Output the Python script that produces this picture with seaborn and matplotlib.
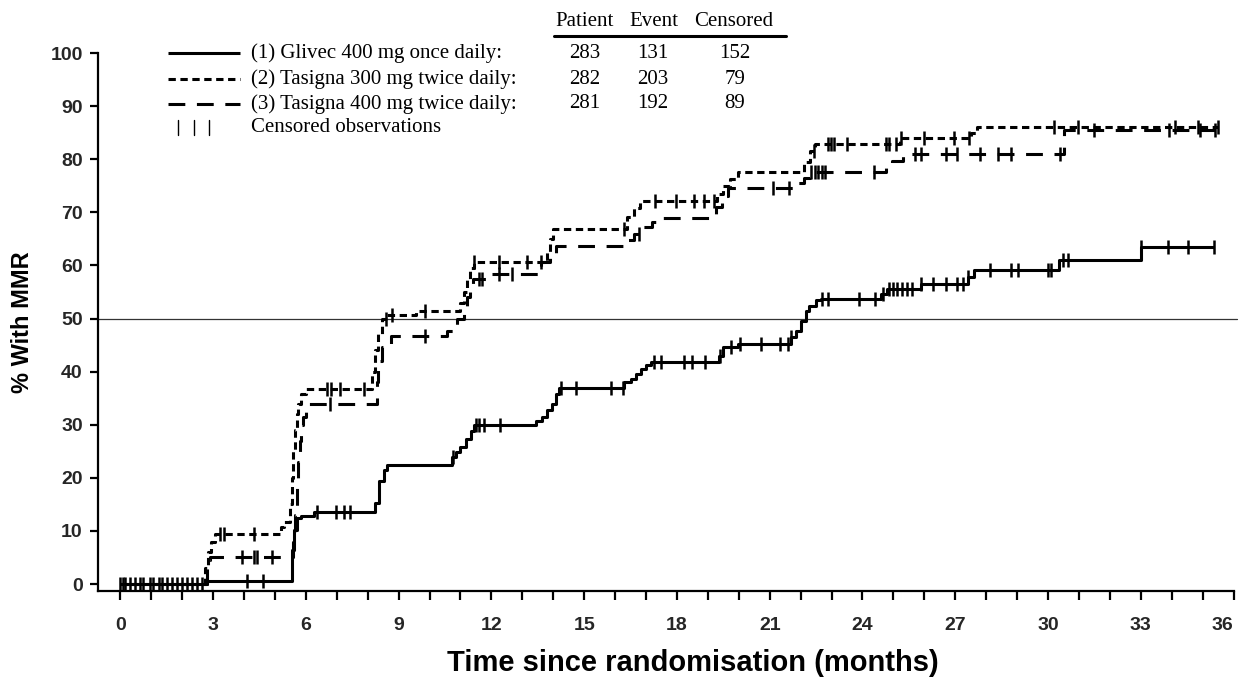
import numpy as np
import pandas as pd
import matplotlib
matplotlib.use("Agg")
import matplotlib.pyplot as plt
from matplotlib.lines import Line2D
import seaborn as sns

# ---------------- data ----------------
# Glivec 400 mg once daily
glivec_t = [0, 2.8, 5.56, 5.61, 5.72, 5.83, 6.26, 8.25, 8.36, 8.52, 8.63, 10.73, 10.84,
            11.0, 11.17, 11.33, 11.43, 13.43, 13.65, 13.81, 13.97, 14.08, 14.19, 16.29,
            16.5, 16.67, 16.83, 16.99, 17.15, 19.37, 19.5, 19.96, 21.68, 21.84, 22.0,
            22.17, 22.28, 22.49, 22.65, 24.6, 24.8, 25.9, 27.4, 27.6, 30.37, 33.0]
glivec_v = [0, 0.6, 6.4, 10.2, 12.4, 12.8, 13.5, 15.2, 19.5, 21.4, 22.4, 23.9, 24.9,
            25.8, 27.4, 28.9, 29.9, 30.8, 31.4, 32.7, 34.0, 35.8, 37.0, 38.0,
            38.7, 39.6, 40.5, 41.2, 41.9, 43.0, 44.6, 45.2, 46.5, 47.7, 49.6,
            51.5, 52.4, 53.4, 53.7, 54.6, 55.6, 56.5, 57.8, 59.2, 61.1, 63.5]
glivec_cens = [0.16, 0.49, 0.97, 1.35, 1.83, 2.32, 4.1, 4.63, 6.37, 6.96, 7.23, 7.42,
               10.75, 11.5, 11.6, 11.75, 12.28, 14.25, 14.75, 15.86, 16.24, 17.26, 17.5,
               18.23, 18.5, 18.9, 19.4, 19.74, 20.04, 20.73, 21.34, 21.6, 21.7, 22.7,
               22.9, 23.9, 24.4, 24.65, 24.86, 25.0, 25.13, 25.27, 25.43, 25.59, 25.9,
               26.27, 26.7, 27.05, 27.24, 27.4, 28.13, 28.8, 29.04, 29.99, 30.1, 30.47,
               30.64, 33.0, 33.87, 34.52, 35.36]

# Tasigna 300 mg twice daily
tas300_t = [0, 2.75, 2.85, 2.95, 3.07, 5.2, 5.3, 5.5, 5.55, 5.6, 5.65, 5.7, 5.75, 5.83,
            6.0, 8.15, 8.25, 8.35, 8.45, 8.63, 9.55, 11.0, 11.1, 11.2, 11.3, 11.43, 13.8,
            13.9, 14.0, 16.4, 16.6, 16.8, 19.3, 19.5, 19.7, 19.97, 22.1, 22.3, 22.45,
            25.2, 27.5, 27.7]
tas300_v = [0, 3.0, 6.1, 8.0, 9.5, 10.8, 11.7, 15.0, 20.0, 25.0, 29.0, 32.0, 34.0, 35.8,
            36.8, 40.0, 44.0, 47.0, 49.9, 50.6, 51.5, 53.0, 55.0, 57.5, 59.5, 60.6, 62.5,
            65.0, 66.9, 69.1, 70.9, 72.2, 73.5, 75.0, 76.3, 77.5, 79.5, 81.6, 82.8,
            84.0, 85.0, 86.0]
tas300_cens = [0.0, 0.32, 0.75, 1.07, 1.51, 2.0, 2.48, 3.24, 3.37, 4.34, 6.69, 6.8, 7.12,
               7.87, 8.58, 8.79, 9.84, 11.43, 12.24, 13.16, 13.6, 16.29, 17.3, 17.96,
               18.55, 18.88, 19.2, 22.44, 22.87, 22.98, 23.08, 23.5, 24.76, 24.87, 25.08,
               25.24, 26.0, 26.97, 27.45, 30.2, 30.96, 34.1, 34.85, 35.5]

# Tasigna 400 mg twice daily
tas400_t = [0, 2.8, 2.9, 5.6, 5.65, 5.7, 5.75, 5.8, 5.85, 5.9, 6.0, 8.3, 8.35, 8.45,
            8.74, 10.57, 10.9, 11.1, 11.2, 11.3, 11.4, 11.9, 13.6, 13.9, 14.1, 16.35,
            16.6, 16.9, 17.2, 17.5, 19.25, 19.45, 19.65, 21.9, 22.1, 22.3, 24.75, 24.95,
            25.3, 30.5]
tas400_v = [0, 4.5, 5.1, 8.0, 13.0, 18.0, 23.0, 27.0, 30.0, 31.4, 34.0, 38.0, 42.0, 44.6,
            46.8, 47.7, 49.9, 52.0, 54.0, 56.0, 57.5, 58.4, 60.6, 62.2, 63.7, 64.7,
            65.9, 67.2, 68.1, 68.9, 71.0, 73.0, 74.5, 75.5, 76.5, 77.5, 78.5, 79.7,
            81.0, 85.5]
tas400_cens = [0.08, 0.65, 1.24, 1.67, 2.16, 2.64, 3.94, 4.31, 4.42, 4.91, 6.78, 9.84,
               11.6, 11.7, 12.24, 12.67, 16.77, 21.1, 21.63, 22.33, 22.45, 22.55, 22.7,
               22.8, 24.38, 25.7, 25.9, 26.7, 27.07, 27.8, 28.37, 28.8, 30.4, 31.5,
               33.9, 34.9, 35.4]

series_labels = ["(1) Glivec 400 mg once daily:",
                 "(2) Tasigna 300 mg twice daily:",
                 "(3) Tasigna 400 mg twice daily:"]
patients = [283, 282, 281]
events = [131, 203, 192]
censored = [152, 79, 89]
table_header = ["Patient", "Event", "Censored"]
x_ticks_major = list(range(0, 37, 3))
y_ticks = list(range(0, 101, 10))

# ---------------- styling ----------------
sns.set_theme(style="ticks")
plt.rcParams["font.family"] = ["Liberation Sans", "DejaVu Sans"]

W, H = 1258, 684
fig = plt.figure(figsize=(W / 100, H / 100), dpi=100)
ax_l, ax_r, ax_t, ax_b = 98, 1233.6, 53, 591
ax = fig.add_axes([ax_l / W, (H - ax_b) / H, (ax_r - ax_l) / W, (ax_b - ax_t) / H])

LW = 2.2
styles = [(0, ()), (0, (2.4, 1.5)), (0, (5.5, 3.8))]
all_series = [(glivec_t, glivec_v, glivec_cens),
              (tas300_t, tas300_v, tas300_cens),
              (tas400_t, tas400_v, tas400_cens)]

for (t, v, c), ls in zip(all_series, styles):
    t_arr = np.asarray(t, float)
    v_arr = np.asarray(v, float)
    end = max(max(c), t_arr[-1])
    df = pd.DataFrame({"t": np.append(t_arr, end), "v": np.append(v_arr, v_arr[-1])})
    sns.lineplot(data=df, x="t", y="v", ax=ax, estimator=None, sort=False,
                 drawstyle="steps-post", color="black", linewidth=LW,
                 linestyle=ls, clip_on=False)
    c_arr = np.asarray(c, float)
    idx = np.searchsorted(t_arr, c_arr, side="right") - 1
    cdf = pd.DataFrame({"t": c_arr, "v": v_arr[idx]})
    sns.scatterplot(data=cdf, x="t", y="v", ax=ax, marker="|", s=110,
                    color="black", linewidth=1.8, clip_on=False, zorder=3)

ax.axhline(50, color="#333333", linewidth=0.9, zorder=1, xmax=1.003, clip_on=False)

ax.set_xlim(-0.72, 36)
ax.set_ylim(-1.3, 100)
ax.set_xticks(x_ticks_major)
ax.set_xticks(range(0, 37), minor=True)
ax.set_yticks(y_ticks)
ax.set_xticklabels([str(x) for x in x_ticks_major], fontsize=14, fontweight="bold")
ax.set_yticklabels([str(y) for y in y_ticks], fontsize=14, fontweight="bold")
ax.get_xticklabels()[-1].set_horizontalalignment("right")
ax.tick_params(axis="x", which="both", length=6.5, width=1.6, direction="out", pad=12,
               color="black")
ax.tick_params(axis="y", which="major", length=6, width=1.6, direction="out", pad=5,
               color="black")
for s in ["top", "right"]:
    ax.spines[s].set_visible(False)
for s in ["left", "bottom"]:
    ax.spines[s].set_linewidth(1.6)
    ax.spines[s].set_color("black")

ax.set_xlabel("Time since randomisation (months)", fontsize=21, fontweight="bold",
              color="black")
ax.xaxis.set_label_coords((693 - ax_l) / (ax_r - ax_l), (ax_b - 649) / (ax_b - ax_t))
ax.set_ylabel("% With MMR", fontsize=17, fontweight="bold", color="black")
ax.yaxis.set_label_coords((34 - ax_l) / (ax_r - ax_l), (ax_b - 322) / (ax_b - ax_t))

# ---------------- legend / table ----------------
def fx(px):
    return px / W


def fy(py):
    return 1 - py / H


serif = ["Liberation Serif", "DejaVu Serif"]
FS = 15
rows_y = [53, 79, 104, 127]
for ls, ry, lab in zip(styles, rows_y, series_labels):
    fig.add_artist(Line2D([fx(168), fx(240)], [fy(ry), fy(ry)], color="black",
                          linewidth=LW, linestyle=ls))
    fig.text(fx(251), fy(ry), lab, family=serif, fontsize=FS, va="center",
             ha="left", color="black")
for px in [178, 194, 209]:
    fig.add_artist(Line2D([fx(px), fx(px)], [fy(rows_y[3] - 7), fy(rows_y[3] + 8)],
                          color="black", linewidth=1.0))
fig.text(fx(251), fy(rows_y[3]), "Censored observations", family=serif, fontsize=FS,
         va="center", ha="left", color="black")

col_x = [585, 654, 734]
for cx, h in zip(col_x, table_header):
    fig.text(fx(cx), fy(22), h, family=serif, fontsize=FS, va="center", ha="center",
             color="black")
fig.add_artist(Line2D([fx(554), fx(786)], [fy(36), fy(36)], color="black", linewidth=2.2))
num_x = [585, 653, 735]
for i, ry in enumerate(rows_y[:3]):
    for cx, val in zip(num_x, [patients[i], events[i], censored[i]]):
        fig.text(fx(cx), fy(ry), str(val), family=serif, fontsize=FS, va="center",
                 ha="center", color="black")

fig.savefig("out.png", dpi=100, facecolor="white")
